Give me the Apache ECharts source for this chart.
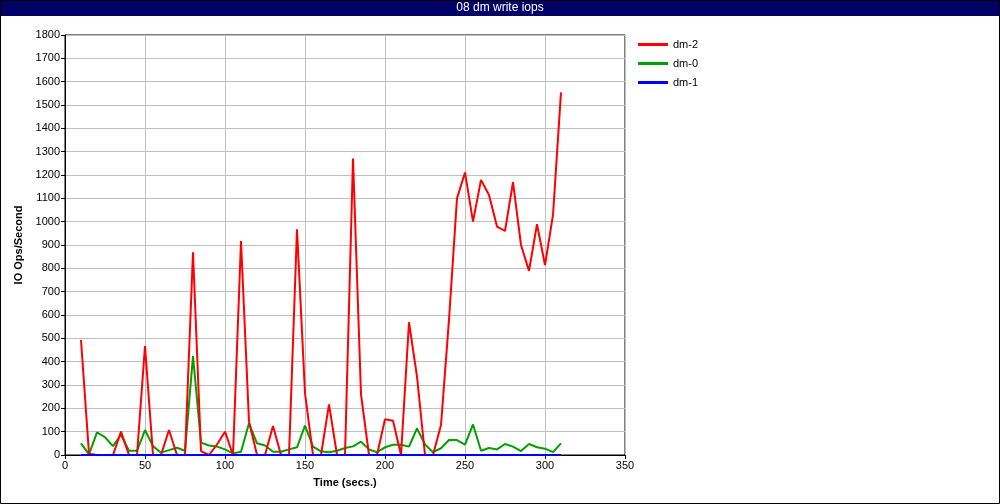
<!DOCTYPE html>
<html>
<head>
<meta charset="utf-8">
<script src="https://cdn.jsdelivr.net/npm/echarts@6/dist/echarts.min.js"></script>
<style>
html,body{margin:0;padding:0;background:#fff;}
#c{width:1000px;height:504px;}
</style>
</head>
<body>
<div id="c"></div>
<script>
const titleText = "08 dm write iops";
const xTitle = "Time (secs.)";
const yTitle = "IO Ops/Second";
const times = [10,15,20,25,30,35,40,45,50,55,60,65,70,75,80,85,90,95,100,105,110,115,120,125,130,135,140,145,150,155,160,165,170,175,180,185,190,195,200,205,210,215,220,225,230,235,240,245,250,255,260,265,270,275,280,285,290,295,300,305,310];
const dm2 = [493,5,0,0,0,100,0,0,467,0,0,107,0,0,869,17,0,45,100,0,917,143,0,0,124,0,0,967,265,0,0,217,0,0,1271,260,0,0,153,147,0,569,336,0,0,129,580,1100,1211,1000,1179,1114,979,960,1169,900,789,989,814,1029,1554];
const dm0 = [50,3,97,76,38,86,18,18,107,38,10,21,31,18,424,53,41,36,24,7,14,136,50,41,14,14,24,33,126,36,16,12,18,30,37,57,24,12,33,44,44,36,114,45,12,29,64,64,44,131,18,30,24,47,36,17,47,33,27,12,50];
const dm1 = [0,0,0,0,0,0,0,0,0,0,0,0,0,0,0,0,0,0,0,0,0,0,0,0,0,0,0,0,0,0,0,0,0,0,0,0,0,0,0,0,0,0,0,0,0,0,0,0,0,0,0,0,0,0,0,0,0,0,0,0,0];
const seriesNames = ["dm-2","dm-0","dm-1"];
const seriesColors = ["#ff0000","#00a000","#0000ff"];

const pairs = arr => times.map((t,i)=>[t,arr[i]]);
const font = "'Liberation Sans', Arial, sans-serif";
const chart = echarts.init(document.getElementById('c'));
chart.setOption({
  animation:false,
  backgroundColor:'#ffffff',
  graphic:[
    {type:'rect',x:0,y:0,shape:{x:0,y:0,width:1000,height:16},style:{fill:'#000066'},z:10},
    {type:'text',x:500,y:8,style:{text:titleText,fill:'#ffffff',font:"12px "+font,textAlign:'center',textVerticalAlign:'middle'},z:11},
    {type:'rect',x:0,y:0,shape:{x:0.5,y:0.5,width:999,height:503},style:{fill:'none',stroke:'#000',lineWidth:1},z:12}
  ],
  grid:{left:65,right:375,top:35,bottom:49,show:true,borderColor:'#000',borderWidth:1,backgroundColor:'#fff'},
  legend:{
    left:638,top:38,padding:0,orient:'vertical',itemWidth:30,itemHeight:3,itemGap:6,icon:'rect',
    data:seriesNames,
    textStyle:{fontFamily:font,fontSize:11,color:'#000',lineHeight:13,padding:[0,0,0,0]}
  },
  xAxis:{
    type:'value',min:0,max:350,interval:50,
    name:xTitle,nameLocation:'middle',nameGap:22,
    nameTextStyle:{fontFamily:font,fontSize:11,fontWeight:'bold',color:'#000'},
    axisLine:{lineStyle:{color:'#000',width:1}},
    axisTick:{show:true,length:4,lineStyle:{color:'#000'}},
    axisLabel:{fontFamily:font,fontSize:11,color:'#000',margin:5,formatter:v=>String(v)},
    splitLine:{show:true,lineStyle:{color:'#c0c0c0',width:1}}
  },
  yAxis:{
    type:'value',min:0,max:1800,interval:100,
    name:yTitle,nameLocation:'middle',nameGap:40,
    nameTextStyle:{fontFamily:font,fontSize:11,fontWeight:'bold',color:'#000'},
    axisLine:{show:true,lineStyle:{color:'#000',width:1}},
    axisTick:{show:true,length:4,lineStyle:{color:'#000'}},
    axisLabel:{fontFamily:font,fontSize:11,color:'#000',margin:5,formatter:v=>String(v)},
    splitLine:{show:true,lineStyle:{color:'#c0c0c0',width:1}}
  },
  series:[
    {name:seriesNames[1],type:'line',data:pairs(dm0),symbol:'none',lineStyle:{width:2,color:seriesColors[1]},itemStyle:{color:seriesColors[1]},z:2},
    {name:seriesNames[0],type:'line',data:pairs(dm2),symbol:'none',lineStyle:{width:2,color:seriesColors[0]},itemStyle:{color:seriesColors[0]},z:3},
    {name:seriesNames[2],type:'line',data:pairs(dm1),symbol:'none',lineStyle:{width:2,color:seriesColors[2]},itemStyle:{color:seriesColors[2]},z:4}
  ]
});
</script>
</body>
</html>
